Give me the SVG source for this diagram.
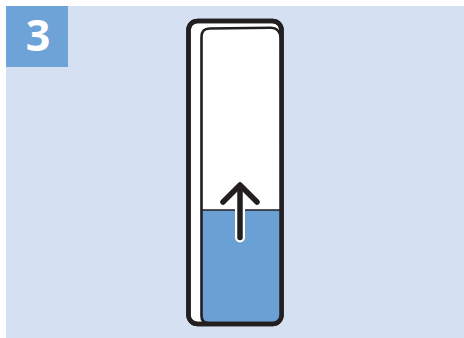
<svg xmlns="http://www.w3.org/2000/svg" width="464" height="338" viewBox="0 0 464 338">
<style>
.ink{fill:none;stroke:#231f20;stroke-linecap:round;stroke-linejoin:round}
</style>
<defs>
<clipPath id="water"><rect x="150" y="210" width="160" height="130"/></clipPath>
</defs>
<rect x="0" y="0" width="464" height="338" fill="#ffffff"/>
<rect x="6" y="6" width="458" height="332" fill="#d5e1f2"/>
<g id="badge">
<rect x="6" y="6" width="62" height="61" fill="#6ea3d8"/>
<text x="38" y="51" font-family="'Open Sans', 'DejaVu Sans', sans-serif" font-weight="bold" font-size="43" fill="#ffffff" text-anchor="middle">3</text>
</g>
<g id="holder">
<rect x="188.5" y="21" width="93" height="303" rx="9" fill="#ffffff" stroke="#231f20" stroke-width="4.5"/>
</g>
<g id="cup">
<path d="M201.5 37 Q201.5 28.6 209.5 28.5 L271 27.8 Q279.5 27.8 281 38 L281.5 316 Q281.5 323 274 323 L208.5 323 Q201.5 323 201.5 316 Z" fill="#ffffff"/>
<path d="M201.5 37 Q201.5 28.6 209.5 28.5 L271 27.8 Q279.5 27.8 281 38 L281.5 316 Q281.5 323 274 323 L208.5 323 Q201.5 323 201.5 316 Z" fill="#6ba0d5" clip-path="url(#water)"/>
<line x1="202" y1="210" x2="281" y2="210" stroke="#231f20" stroke-width="1.6"/>
<path d="M201.5 37 Q201.5 28.6 209.5 28.5 L271 27.8 Q279.5 27.8 281 38 L281.5 316 Q281.5 323 274 323 L208.5 323 Q201.5 323 201.5 316 Z" class="ink" stroke-width="2.6"/>
<rect x="188.5" y="21" width="93" height="303" rx="9" class="ink" stroke-width="4.5"/>
</g>
<g id="arrow">
<line x1="240" y1="209" x2="240" y2="237.5" stroke="#ffffff" stroke-width="10" stroke-linecap="round"/>
<line x1="240" y1="186" x2="240" y2="237.5" class="ink" stroke-width="5.5"/>
<polyline points="223,202 240,185 257,202" class="ink" stroke-width="5.5"/>
</g>
</svg>
